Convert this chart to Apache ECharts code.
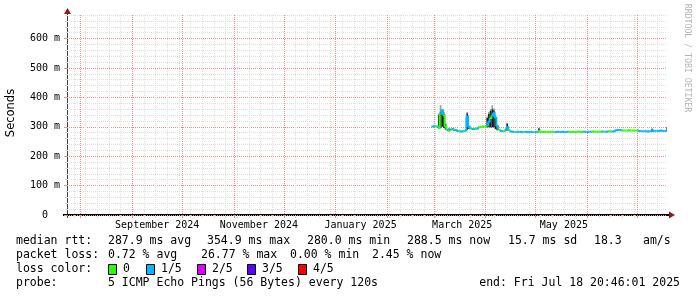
<!DOCTYPE html>
<html><head><meta charset="utf-8">
<script src="https://cdn.jsdelivr.net/npm/echarts@6/dist/echarts.min.js"></script>
<style>html,body{margin:0;padding:0;background:#fff}#c{width:697px;height:297px}</style>
</head><body><div id="c"></div>
<script>
// ---------------- data ----------------
const endTime = '2025-07-18T20:46:01Z';
const rangeDays = 360;
const seriesStart = '2025-02-27T12:00:00Z';
const stepHours = 24;

// median RTT per step (ms)
const medianMs = [
  301,302,301,300,296,345,355,338,300,289,
  287,291,292,290,289,286,285,284,285,286,
  287,335,300,293,292,292,293,294,298,300,
  300,301,300,305,318,330,338,348,330,302,
  290,286,285,285,290,298,288,284,283,282,
  282,283,282,282,281,282,282,281,282,282,
  281,282,282,283,286,282,282,283,282,282,
  282,283,283,282,282,283,282,282,283,282,
  282,283,282,282,283,282,282,283,283,282,
  283,283,282,282,283,283,284,283,283,283,
  283,283,284,283,283,284,285,284,284,285,
  288,289,289,288,287,287,287,287,288,287,
  287,287,287,287,286,285,285,285,285,284,
  285,285,287,286,286,286,286,287,286,286,
  286,288
];
// packet loss per step, in fifths (0 .. 4)
const lossFifths = [
  1,1,0,1,0,1,1,0,0,1,
  0,1,1,0,1,1,0,1,1,0,
  1,1,1,0,1,1,0,1,0,0,
  0,0,0,1,1,0,1,1,1,1,
  0,1,1,0,1,1,0,1,1,1,
  0,1,1,1,1,0,1,1,1,1,
  1,0,1,1,0,0,0,0,0,0,
  0,0,0,0,1,1,1,1,1,1,
  1,1,0,0,0,0,0,0,0,0,
  0,1,1,1,1,1,0,0,0,0,
  0,0,1,0,1,1,0,0,1,1,
  1,1,1,1,0,0,0,0,0,0,
  0,0,0,0,1,1,1,1,1,1,
  1,1,1,1,1,1,1,1,1,1,
  1,1
];
// smoke (ping spread) where visible
const smokeIdx   = [4,5,6,7,8,10,13,21,22,33,34,35,36,37,38,39,45,64,132,141];
const smokeLowMs = [292,296,300,296,290,285,286,290,292,298,298,298,298,298,292,288,287,282,283,283];
const smokeTopMs = [340,352,356,345,310,295,292,346,302,330,345,355,360,356,335,305,312,296,293,299];
const smokeTipMs = [345,373,360,350,312,296,293,350,303,335,350,360,373,362,338,306,313,297,294,300];

const monthLines = ['2024-08-01','2024-09-01','2024-10-01','2024-11-01','2024-12-01','2025-01-01',
                    '2025-02-01','2025-03-01','2025-04-01','2025-05-01','2025-06-01','2025-07-01'];
const firstWeekLine = '2024-07-28';
const monthLabelDates = ['2024-09-16','2024-11-16','2025-01-16','2025-03-18','2025-05-18'];
const monthLabels = ['September 2024','November 2024','January 2025','March 2025','May 2025'];
const yMajorTicks = [0,0.1,0.2,0.3,0.4,0.5,0.6];
const yMax = 0.68;

const lossColors = ['#26ff00','#00b8ff','#dd00ff','#5e00ff','#ff0000'];
const lossNames  = ['0','1/5','2/5','3/5','4/5'];
const rttStats  = ['287.9 ms avg','354.9 ms max','280.0 ms min','288.5 ms now','15.7 ms sd','18.3','am/s'];
const lossStats = ['0.72 % avg','26.77 % max','0.00 % min','2.45 % now'];
const probeText = '5 ICMP Echo Pings (56 Bytes) every 120s';
const endText = 'end: Fri Jul 18 20:46:01 2025';

// ---------------- build ----------------
const DAY = 86400000;
const END = Date.parse(endTime);
const START = END - rangeDays * DAY;
const STEP = stepHours * 3600000;
const T0 = Date.parse(seriesStart);

const medianData = medianMs.map((m, i) => [T0 + i * STEP, m / 1000, lossFifths[i],
  (i + 1 < medianMs.length ? medianMs[i + 1] : m) / 1000]);
const smokeData = smokeIdx.map((k, j) => [T0 + k * STEP, smokeLowMs[j] / 1000, smokeTopMs[j] / 1000]);
const tipData = smokeIdx.map((k, j) => [T0 + k * STEP, smokeTopMs[j] / 1000, smokeTipMs[j] / 1000]);

const monthTimes = monthLines.map(Date.parse);
const weekTimes = [];
for (let t = Date.parse(firstWeekLine); t < END; t += 7 * DAY) weekTimes.push(t);
const labelTimes = monthLabelDates.map(Date.parse);
const yMinorTicks = [];
for (let k = 0; k <= 34; k++) if (k % 5) yMinorTicks.push(Math.round(k * 20) / 1000);

const MONO = '"DejaVu Sans Mono", monospace';
const minorC = '#dedede', majorC = '#ef8c8c';

const G = {left: 67, top: 15, width: 600, height: 200};
const xA = (o) => Object.assign({type: 'value', min: START, max: END, position: 'bottom', offset: 0,
  axisLine: {show: false}, axisLabel: {show: false}, axisTick: {show: false}, splitLine: {show: false}}, o);
const yA = (o) => Object.assign({type: 'value', min: 0, max: yMax, position: 'left', offset: 0,
  axisLine: {show: false}, axisLabel: {show: false}, axisTick: {show: false}, splitLine: {show: false}}, o);

function rectItem(api, color) {
  const t = api.value(0);
  const p0 = api.coord([t, api.value(2)]);
  const p1 = api.coord([t + STEP, api.value(1)]);
  return {type: 'rect', shape: {x: p0[0], y: p0[1], width: p1[0] - p0[0], height: Math.max(1, p1[1] - p0[1])},
    style: {fill: color}};
}

const chart = echarts.init(document.getElementById('c'), null, {renderer: 'canvas'});
const gfx = [];
const T = (text, x, y, extra) => gfx.push({type: 'text', x, y,
  style: Object.assign({text, font: '11.5px ' + MONO, fill: '#000', verticalAlign: 'middle'}, extra || {})});
// axes lines & arrows
gfx.push({type: 'line', shape: {x1: 67.5, y1: 218, x2: 67.5, y2: 12}, style: {stroke: '#404040', lineWidth: 1}});
gfx.push({type: 'line', shape: {x1: 63, y1: 215, x2: 670, y2: 215}, style: {stroke: '#000', lineWidth: 2}});
gfx.push({type: 'polygon', shape: {points: [[67.5, 8], [64, 14], [71, 14]]}, style: {fill: '#8b1c1c'}});
gfx.push({type: 'polygon', shape: {points: [[675, 215], [669, 211.5], [669, 218.5]]}, style: {fill: '#8b1c1c'}});
// titles
gfx.push({type: 'text', x: 11, y: 113, rotation: Math.PI / 2,
  style: {text: 'Seconds', font: '11.5px "DejaVu Sans"', fill: '#000', align: 'center', verticalAlign: 'middle'}});
gfx.push({type: 'text', x: 687, y: 58, rotation: -Math.PI / 2,
  style: {text: 'RRDTOOL / TOBI OETIKER', font: '8.2px ' + MONO, fill: '#b4b4b4', align: 'center', verticalAlign: 'middle'}});
// legend
const rttX = [108, 207, 307, 407, 508, 594, 643];
T('median rtt:', 16, 241);
rttStats.forEach((s, i) => T(s, rttX[i], 241));
const lossX = [108, 201, 290, 372];
T('packet loss:', 16, 255);
lossStats.forEach((s, i) => T(s, lossX[i], 255));
T('loss color:', 16, 269);
const boxX = [108, 146, 197, 247, 298];
lossNames.forEach((n, i) => {
  gfx.push({type: 'rect', shape: {x: boxX[i] + 0.5, y: 264.5, width: 8, height: 10},
    style: {fill: lossColors[i], stroke: '#000', lineWidth: 1}});
  T(n, boxX[i] + 15, 269);
});
T('probe:', 16, 283);
T(probeText, 108, 283);
T(endText, 680, 283, {align: 'right'});

chart.setOption({
  animation: false,
  backgroundColor: '#fff',
  grid: G,
  xAxis: [
    xA({axisLabel: {show: true, customValues: labelTimes, margin: 5, color: '#000', fontSize: 10, fontFamily: MONO,
        formatter: (v) => { const k = labelTimes.indexOf(v); return k >= 0 ? monthLabels[k] : ''; }}}),
    xA({axisTick: {show: true, customValues: weekTimes, length: 3, lineStyle: {color: minorC}},
        splitLine: {show: true, lineStyle: {color: minorC, type: [1, 1], width: 1}}}),
    xA({axisTick: {show: true, customValues: monthTimes, length: 3, lineStyle: {color: majorC}},
        splitLine: {show: true, lineStyle: {color: majorC, type: [1, 1], width: 1}}})
  ],
  yAxis: [
    yA({axisLabel: {show: true, customValues: yMajorTicks, margin: 7, color: '#000', fontSize: 10, fontFamily: MONO,
        formatter: (v) => v === 0 ? '0  ' : Math.round(v * 1000) + ' m'}}),
    yA({axisTick: {show: true, customValues: yMinorTicks, length: 2, lineStyle: {color: minorC}},
        splitLine: {show: true, lineStyle: {color: minorC, type: [1, 1], width: 1}}}),
    yA({axisTick: {show: true, customValues: yMajorTicks, length: 3, lineStyle: {color: majorC}},
        splitLine: {show: true, lineStyle: {color: majorC, type: [1, 1], width: 1}}})
  ],
  series: [
    {type: 'custom', xAxisIndex: 0, yAxisIndex: 0, clip: true, data: smokeData,
     encode: {x: 0, y: [1, 2]}, renderItem: (p, api) => rectItem(api, '#1e1e1e')},
    {type: 'custom', xAxisIndex: 0, yAxisIndex: 0, clip: true, data: tipData,
     encode: {x: 0, y: [1, 2]}, renderItem: (p, api) => rectItem(api, '#9a9a9a')},
    {type: 'custom', xAxisIndex: 0, yAxisIndex: 0, clip: true, data: medianData,
     encode: {x: 0, y: 1},
     renderItem: (p, api) => {
       const t = api.value(0), m = api.value(1), n = api.value(3);
       const a = api.coord([t, m]), b = api.coord([t + STEP, m]), c = api.coord([t + STEP, n]);
       return {type: 'polyline', shape: {points: [a, b, c]},
         style: {stroke: lossColors[api.value(2)], lineWidth: 2, fill: null}};
     }}
  ],
  graphic: gfx
});
</script></body></html>
